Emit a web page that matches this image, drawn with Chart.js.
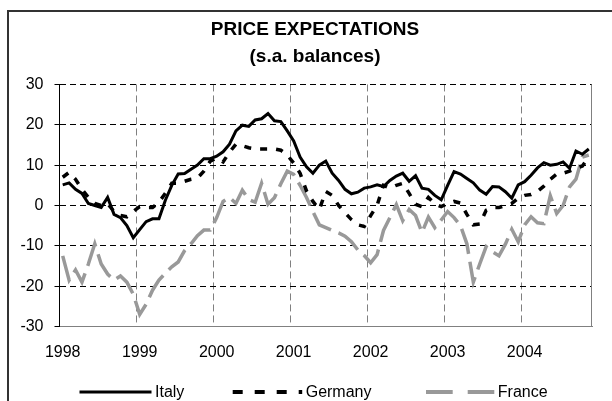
<!DOCTYPE html>
<html>
<head>
<meta charset="utf-8">
<script src="https://cdn.jsdelivr.net/npm/chart.js@4/dist/chart.umd.min.js"></script>
<style>
html,body{margin:0;padding:0;background:#fff;}
#wrap{width:612px;height:401px;position:relative;}
</style>
</head>
<body>
<div id="wrap"><canvas id="c" width="612" height="401"></canvas></div>
<script>
// ---- data (monthly, Jan 1998 - Nov 2004) ----
const years = ['1998', '1999', '2000', '2001', '2002', '2003', '2004'];
const seriesNames = ['Italy', 'Germany', 'France'];

const italy = [
  5.1, 5.6, 4.0, 3.0, 0.5, 0.0, -0.5, 2.0, -2.2, -3.0, -5.0, -8.0,
  -6.0, -4.0, -3.3, -3.3, 1.3, 5.0, 7.8, 7.9, 9.0, 10.0, 11.6, 11.6,
  12.2, 13.3, 15.2, 18.5, 19.9, 19.6, 21.2, 21.5, 22.8, 21.0, 20.8, 18.5,
  16.0, 12.0, 9.6, 8.0, 10.0, 11.0, 8.0, 6.2, 4.0, 2.9, 3.3, 4.3,
  4.6, 5.1, 4.7, 6.2, 7.3, 8.0, 6.0, 7.4, 4.3, 4.0, 2.5, 1.4,
  5.0, 8.4, 7.8, 6.7, 5.6, 3.8, 2.8, 4.7, 4.6, 3.4, 1.8, 5.1,
  5.9, 7.5, 9.3, 10.6, 10.0, 10.2, 10.8, 9.2, 13.5, 12.7, 14.0
];
const germany = [
  7.0, 8.2, 6.5, 4.0, 2.0, 0.5, 0.0, 0.5, -1.5, -2.5, -2.8, -1.5,
  -0.3, -0.5, -0.5, 0.8, 3.0, 5.5, 5.5, 6.0, 6.5, 6.8, 8.5, 11.0,
  11.8, 10.8, 13.2, 15.2, 14.8, 14.3, 14.0, 14.0, 14.0, 14.0, 13.7, 12.5,
  10.5, 8.0, 3.6, 1.0, -1.0, 3.5, 2.5, 0.0, -1.8, -3.5, -4.8, -5.2,
  -2.5, 0.0, 5.0, 4.3, 5.0, 5.5, 3.0, 0.3, -0.3, 2.0, 0.4, -0.3,
  0.5, 1.0, 0.6, -2.2, -4.8, -4.6, -1.2, -0.5, -0.5, 0.0, 0.5, 1.8,
  2.5, 2.7, 3.5, 4.8, 6.5, 7.8, 8.0, 8.5, 9.2, 9.8, 12.0
];
const france = [
  -12.5, -18.5, -16.0, -19.0, -14.5, -9.5, -14.5, -17.0, -18.5, -17.5, -19.0, -22.0,
  -27.0, -24.5, -21.0, -18.5, -16.8, -15.2, -14.0, -11.2, -9.5, -7.5, -6.1, -6.1,
  -3.0, 1.0, 2.0, 0.5, 3.8, 1.5, 0.8, 5.5, 0.3, 1.9, 5.4, 8.5,
  7.7, 5.0, 2.0, -1.5, -4.8, -5.5, -6.2, -6.8, -7.6, -9.0, -11.0, -12.4,
  -14.2, -12.2, -6.2, -3.0, 0.2, -3.8, -1.0, -2.5, -6.7, -2.9, -5.5, -3.6,
  -1.5, -3.0, -5.0, -9.5, -19.0, -14.5, -10.2, -11.5, -12.5, -9.6, -5.9, -9.0,
  -4.8, -2.8, -4.3, -4.5, 2.4, -2.0, 0.0, 4.6, 6.5, 12.0, 12.5
];

// month categories built from the year list
const categories = [];
years.forEach(y => { for (let m = 1; m <= 12; m++) categories.push(y + '-' + String(m).padStart(2, '0')); });
categories.length = italy.length;

const FONT = "'Liberation Sans', Arial, sans-serif";

// ---- plugins ----
const framePlugin = {
  id: 'frame',
  beforeDraw(chart) {
    const ctx = chart.ctx;
    ctx.save();
    ctx.fillStyle = '#fff';
    ctx.fillRect(0, 0, chart.width, chart.height);
    ctx.strokeStyle = '#333';
    ctx.lineWidth = 2;
    ctx.strokeRect(8, 11, 800, 600);
    ctx.restore();
  },
  beforeDatasetsDraw(chart) {
    const {ctx, chartArea: a} = chart;
    ctx.save();
    ctx.strokeStyle = '#808080';
    ctx.lineWidth = 1;
    ctx.beginPath();
    ctx.moveTo(Math.round(a.right) - 0.5, a.top);
    ctx.lineTo(Math.round(a.right) - 0.5, a.bottom);
    ctx.stroke();
    ctx.restore();
  }
};

const legendPlugin = {
  id: 'customLegend',
  afterDraw(chart, args, opts) {
    const ctx = chart.ctx;
    ctx.save();
    ctx.font = '16px ' + FONT;
    ctx.textBaseline = 'middle';
    ctx.textAlign = 'left';
    chart.data.datasets.forEach((ds, i) => {
      const x0 = opts.starts[i], len = opts.lengths[i], y = opts.y;
      ctx.strokeStyle = ds.borderColor;
      ctx.lineWidth = opts.widths[i];
      ctx.setLineDash(opts.dashes[i]);
      ctx.lineCap = 'butt';
      ctx.beginPath();
      ctx.moveTo(x0, y);
      ctx.lineTo(x0 + len, y);
      ctx.stroke();
      ctx.setLineDash([]);
      ctx.fillStyle = '#000';
      ctx.fillText(ds.label, x0 + len + 3.5, y + 0.5);
    });
    ctx.restore();
  }
};

new Chart(document.getElementById('c'), {
  type: 'line',
  data: {
    labels: categories,
    datasets: [
      { label: seriesNames[0], data: italy, borderColor: '#000000', borderWidth: 3, pointRadius: 0, tension: 0, fill: false },
      { label: seriesNames[1], data: germany, borderColor: '#000000', borderWidth: 3.5, borderDash: [7, 9], pointRadius: 0, tension: 0, fill: false },
      { label: seriesNames[2], data: france, borderColor: '#999999', borderWidth: 3.5, borderDash: [26, 8], pointRadius: 0, tension: 0, fill: false }
    ]
  },
  options: {
    responsive: false,
    animation: false,
    devicePixelRatio: 1,
    layout: { padding: { left: 18, right: 0, top: 0, bottom: 40.5 } },
    plugins: {
      legend: { display: false },
      tooltip: { enabled: false },
      title: {
        display: true,
        text: ['PRICE EXPECTATIONS', '(s.a. balances)'],
        color: '#000',
        font: { family: FONT, size: 19, weight: 'bold', lineHeight: 1.38 },
        padding: { top: 17, bottom: 15 }
      },
      customLegend: {
        y: 392,
        starts: [79.5, 232.7, 426],
        lengths: [72, 69.5, 68.3],
        widths: [3, 4, 4],
        dashes: [[], [10, 12], [26.7, 15]]
      }
    },
    scales: {
      x: {
        type: 'category',
        offset: true,
        grid: {
          offset: true,
          drawTicks: false,
          lineWidth: 1,
          color: (c) => (c.index > 0 && c.index % 12 === 0 && c.index < italy.length) ? '#808080' : 'rgba(0,0,0,0)'
        },
        border: { display: true, color: '#808080', width: 1, dash: [7, 4] },
        ticks: {
          autoSkip: false,
          maxRotation: 0,
          minRotation: 0,
          padding: 16,
          color: '#000',
          font: { family: FONT, size: 16 },
          callback: (v, i) => (i % 12 === 0 ? years[i / 12] : '')
        },
        afterFit: (s) => { s.height = 34; }
      },
      y: {
        type: 'linear',
        position: 'left',
        min: -30,
        max: 30,
        ticks: { stepSize: 10, padding: 11, color: '#000', font: { family: FONT, size: 16 } },
        grid: { color: '#000', lineWidth: 1, drawTicks: true, tickLength: 5, tickColor: '#000', tickBorderDash: [] },
        border: { display: true, color: '#000', width: 1, dash: [6, 4] },
        afterFit: (s) => { s.width = 41.5; }
      },
      yRightSpace: {
        type: 'linear',
        position: 'right',
        display: true,
        min: -30,
        max: 30,
        grid: { display: false, drawOnChartArea: false },
        border: { display: false },
        ticks: { display: false },
        afterFit: (s) => { s.width = 20; }
      }
    }
  },
  plugins: [framePlugin, legendPlugin]
});
</script>
</body>
</html>
